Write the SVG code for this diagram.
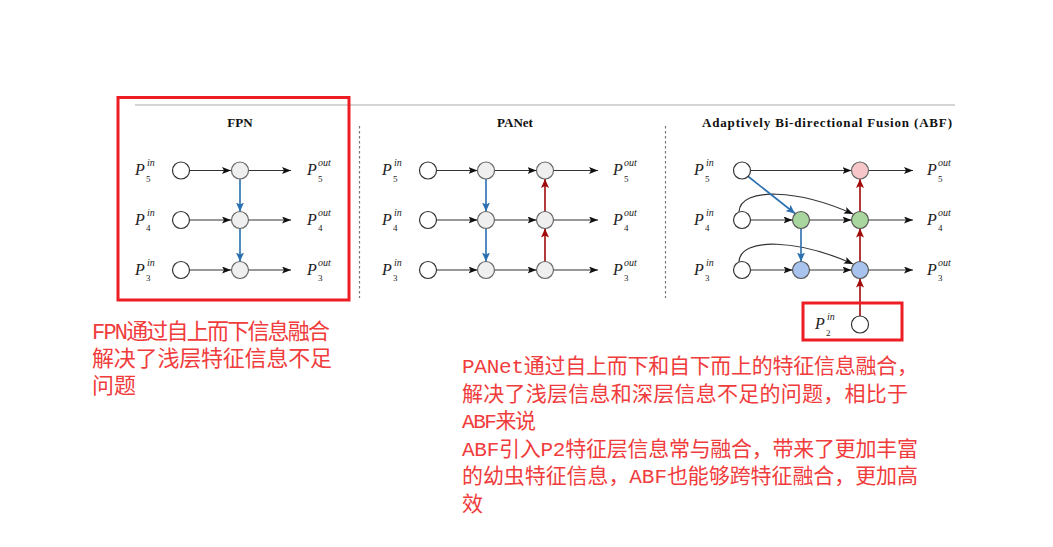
<svg xmlns="http://www.w3.org/2000/svg" width="1053" height="547" viewBox="0 0 1053 547">
<style>
.bg{fill:#fff}
.e{stroke:#333;stroke-width:1.2;fill:none}
.eb{stroke:#2a6fb0;stroke-width:1.6;fill:none}
.er{stroke:#a00a0a;stroke-width:1.6;fill:none}
.nin{fill:#fff;stroke:#333;stroke-width:1.2}
.ng{fill:#efefef;stroke:#666;stroke-width:1.2}
.npk{fill:#f6c6c8;stroke:#666;stroke-width:1.2}
.ngr{fill:#a9d59f;stroke:#555;stroke-width:1.2}
.nbl{fill:#a8c4ee;stroke:#555;stroke-width:1.2}
.P{font-family:"Liberation Serif",serif;font-style:italic;font-size:16px;fill:#222}
.sup{font-family:"Liberation Serif",serif;font-style:italic;font-size:10px;fill:#222}
.sub{font-family:"Liberation Serif",serif;font-size:9px;fill:#222}
.title{font-family:"Liberation Serif",serif;font-weight:bold;font-size:13px;fill:#111}
.note{font-family:"Liberation Mono","Noto Sans CJK SC",monospace;fill:#f03c3c}
.box{fill:none;stroke:#ee1c25;stroke-width:3}
.sep{stroke:#777;stroke-width:1.2;stroke-dasharray:2.5,2.5}
</style>
<defs>
<marker id="ak" markerUnits="userSpaceOnUse" markerWidth="9" markerHeight="7" refX="9" refY="3.5" orient="auto"><path d="M0,0 L9,3.5 L0,7 L2,3.5 z" fill="#111"/></marker>
<marker id="ab" markerUnits="userSpaceOnUse" markerWidth="9" markerHeight="8" refX="9" refY="4" orient="auto"><path d="M0,0 L9,4 L0,8 L2,4 z" fill="#2a6fb0"/></marker>
<marker id="ar" markerUnits="userSpaceOnUse" markerWidth="9" markerHeight="8" refX="9" refY="4" orient="auto"><path d="M0,0 L9,4 L0,8 L2,4 z" fill="#a00a0a"/></marker>
</defs>
<rect class="bg" x="0" y="0" width="1053" height="547"/>
<line x1="135" y1="105" x2="955" y2="105" stroke="#aaa" stroke-width="1"/>
<line class="sep" x1="359.5" y1="126" x2="359.5" y2="298"/>
<line class="sep" x1="665.5" y1="126" x2="665.5" y2="298"/>
<text class="title" x="240" y="127" text-anchor="middle">FPN</text>
<text class="title" x="515" y="127" text-anchor="middle">PANet</text>
<text class="title" x="702" y="127" textLength="250" lengthAdjust="spacing">Adaptively  Bi-directional  Fusion (ABF)</text>

<g id="connectors">
<!-- FPN -->
<line class="e" x1="189.5" y1="170.5" x2="231" y2="170.5" marker-end="url(#ak)"/>
<line class="e" x1="249" y1="170.5" x2="291" y2="170.5" marker-end="url(#ak)"/>
<line class="e" x1="189.5" y1="220" x2="231" y2="220" marker-end="url(#ak)"/>
<line class="e" x1="249" y1="220" x2="291" y2="220" marker-end="url(#ak)"/>
<line class="e" x1="189.5" y1="270" x2="231" y2="270" marker-end="url(#ak)"/>
<line class="e" x1="249" y1="270" x2="291" y2="270" marker-end="url(#ak)"/>
<line class="eb" x1="240" y1="179" x2="240" y2="211.5" marker-end="url(#ab)"/>
<line class="eb" x1="240" y1="228.5" x2="240" y2="261.5" marker-end="url(#ab)"/>
<!-- PANet -->
<line class="e" x1="436.5" y1="170.5" x2="477.5" y2="170.5" marker-end="url(#ak)"/>
<line class="e" x1="494.5" y1="170.5" x2="536.5" y2="170.5" marker-end="url(#ak)"/>
<line class="e" x1="553.5" y1="170.5" x2="598" y2="170.5" marker-end="url(#ak)"/>
<line class="e" x1="436.5" y1="220" x2="477.5" y2="220" marker-end="url(#ak)"/>
<line class="e" x1="494.5" y1="220" x2="536.5" y2="220" marker-end="url(#ak)"/>
<line class="e" x1="553.5" y1="220" x2="598" y2="220" marker-end="url(#ak)"/>
<line class="e" x1="436.5" y1="270" x2="477.5" y2="270" marker-end="url(#ak)"/>
<line class="e" x1="494.5" y1="270" x2="536.5" y2="270" marker-end="url(#ak)"/>
<line class="e" x1="553.5" y1="270" x2="598" y2="270" marker-end="url(#ak)"/>
<line class="eb" x1="486" y1="179" x2="486" y2="211.5" marker-end="url(#ab)"/>
<line class="eb" x1="486" y1="228.5" x2="486" y2="261.5" marker-end="url(#ab)"/>
<line class="er" x1="545" y1="261.5" x2="545" y2="228.5" marker-end="url(#ar)"/>
<line class="er" x1="545" y1="211.5" x2="545" y2="179" marker-end="url(#ar)"/>
<!-- ABF -->
<line class="e" x1="750.5" y1="170.5" x2="851.5" y2="170.5" marker-end="url(#ak)"/>
<line class="e" x1="868.5" y1="170.5" x2="913" y2="170.5" marker-end="url(#ak)"/>
<line class="e" x1="750.5" y1="220" x2="792.5" y2="220" marker-end="url(#ak)"/>
<line class="e" x1="809.5" y1="220" x2="851.5" y2="220" marker-end="url(#ak)"/>
<line class="e" x1="868.5" y1="220" x2="913" y2="220" marker-end="url(#ak)"/>
<line class="e" x1="750.5" y1="270" x2="792.5" y2="270" marker-end="url(#ak)"/>
<line class="e" x1="809.5" y1="270" x2="851.5" y2="270" marker-end="url(#ak)"/>
<line class="e" x1="868.5" y1="270" x2="913" y2="270" marker-end="url(#ak)"/>
<path class="e" d="M739,212 C740,186 800,190 853,214" marker-end="url(#ak)"/>
<path class="e" d="M739,262 C740,236 800,240 853,264" marker-end="url(#ak)"/>
<line class="eb" x1="747" y1="175.5" x2="795" y2="213.5" marker-end="url(#ab)"/>
<line class="eb" x1="801" y1="228.5" x2="801" y2="261.5" marker-end="url(#ab)"/>
<line class="er" x1="860" y1="261.5" x2="860" y2="228.5" marker-end="url(#ar)"/>
<line class="er" x1="860" y1="211.5" x2="860" y2="179" marker-end="url(#ar)"/>
<line class="er" x1="860" y1="316" x2="860" y2="278.5" marker-end="url(#ar)"/>
</g>

<g id="fpn-nodes">
<circle class="nin" cx="181" cy="170.5" r="8.5"/>
<circle class="nin" cx="181" cy="220" r="8.5"/>
<circle class="nin" cx="181" cy="270" r="8.5"/>
<circle class="ng" cx="240" cy="170.5" r="8.5"/>
<circle class="ng" cx="240" cy="220" r="8.5"/>
<circle class="ng" cx="240" cy="270" r="8.5"/>
</g>
<g id="panet-nodes">
<circle class="nin" cx="428" cy="170.5" r="8.5"/>
<circle class="nin" cx="428" cy="220" r="8.5"/>
<circle class="nin" cx="428" cy="270" r="8.5"/>
<circle class="ng" cx="486" cy="170.5" r="8.5"/>
<circle class="ng" cx="486" cy="220" r="8.5"/>
<circle class="ng" cx="486" cy="270" r="8.5"/>
<circle class="ng" cx="545" cy="170.5" r="8.5"/>
<circle class="ng" cx="545" cy="220" r="8.5"/>
<circle class="ng" cx="545" cy="270" r="8.5"/>
</g>
<g id="abf-nodes">
<circle class="nin" cx="742" cy="170.5" r="8.5"/>
<circle class="nin" cx="742" cy="220" r="8.5"/>
<circle class="nin" cx="742" cy="270" r="8.5"/>
<circle class="ngr" cx="801" cy="220" r="8.5"/>
<circle class="nbl" cx="801" cy="270" r="8.5"/>
<circle class="npk" cx="860" cy="170.5" r="8.5"/>
<circle class="ngr" cx="860" cy="220" r="8.5"/>
<circle class="nbl" cx="860" cy="270" r="8.5"/>
<circle class="nin" cx="860" cy="324.5" r="8.5"/>
</g>

<g id="labels">
<!-- FPN -->
<text class="P" x="135" y="175">P</text><text class="sup" x="147" y="166">in</text><text class="sub" x="146" y="181.5">5</text>
<text class="P" x="135" y="224.5">P</text><text class="sup" x="147" y="215.5">in</text><text class="sub" x="146" y="231">4</text>
<text class="P" x="135" y="274.5">P</text><text class="sup" x="147" y="265.5">in</text><text class="sub" x="146" y="281">3</text>
<text class="P" x="307" y="175">P</text><text class="sup" x="318" y="166">out</text><text class="sub" x="318" y="181.5">5</text>
<text class="P" x="307" y="224.5">P</text><text class="sup" x="318" y="215.5">out</text><text class="sub" x="318" y="231">4</text>
<text class="P" x="307" y="274.5">P</text><text class="sup" x="318" y="265.5">out</text><text class="sub" x="318" y="281">3</text>
<!-- PANet -->
<text class="P" x="382" y="175">P</text><text class="sup" x="394" y="166">in</text><text class="sub" x="393" y="181.5">5</text>
<text class="P" x="382" y="224.5">P</text><text class="sup" x="394" y="215.5">in</text><text class="sub" x="393" y="231">4</text>
<text class="P" x="382" y="274.5">P</text><text class="sup" x="394" y="265.5">in</text><text class="sub" x="393" y="281">3</text>
<text class="P" x="613" y="175">P</text><text class="sup" x="624" y="166">out</text><text class="sub" x="624" y="181.5">5</text>
<text class="P" x="613" y="224.5">P</text><text class="sup" x="624" y="215.5">out</text><text class="sub" x="624" y="231">4</text>
<text class="P" x="613" y="274.5">P</text><text class="sup" x="624" y="265.5">out</text><text class="sub" x="624" y="281">3</text>
<!-- ABF -->
<text class="P" x="694" y="175">P</text><text class="sup" x="706" y="166">in</text><text class="sub" x="705" y="181.5">5</text>
<text class="P" x="694" y="224.5">P</text><text class="sup" x="706" y="215.5">in</text><text class="sub" x="705" y="231">4</text>
<text class="P" x="694" y="274.5">P</text><text class="sup" x="706" y="265.5">in</text><text class="sub" x="705" y="281">3</text>
<text class="P" x="927" y="175">P</text><text class="sup" x="938" y="166">out</text><text class="sub" x="938" y="181.5">5</text>
<text class="P" x="927" y="224.5">P</text><text class="sup" x="938" y="215.5">out</text><text class="sub" x="938" y="231">4</text>
<text class="P" x="927" y="274.5">P</text><text class="sup" x="938" y="265.5">out</text><text class="sub" x="938" y="281">3</text>
<text class="P" x="815" y="329">P</text><text class="sup" x="827" y="320">in</text><text class="sub" x="826" y="335.5">2</text>
</g>

<g id="highlights">
<rect class="box" x="118" y="97.5" width="231" height="202.5"/>
<rect class="box" x="803" y="303" width="99" height="37"/>
</g>

<g id="notes">
<text class="note" font-size="22" x="92" y="339" textLength="238" lengthAdjust="spacing">FPN通过自上而下信息融合</text>
<text class="note" font-size="22" x="92" y="366" textLength="240" lengthAdjust="spacing">解决了浅层特征信息不足</text>
<text class="note" font-size="22" x="92" y="393" textLength="44" lengthAdjust="spacing">问题</text>
<text class="note" font-size="21" x="462" y="373" textLength="456" lengthAdjust="spacing">PANet通过自上而下和自下而上的特征信息融合，</text>
<text class="note" font-size="21" x="462" y="400.5" textLength="446" lengthAdjust="spacing">解决了浅层信息和深层信息不足的问题，相比于</text>
<text class="note" font-size="21" x="462" y="428" textLength="74" lengthAdjust="spacing">ABF来说</text>
<text class="note" font-size="21" x="462" y="455.5" textLength="456" lengthAdjust="spacing">ABF引入P2特征层信息常与融合，带来了更加丰富</text>
<text class="note" font-size="21" x="462" y="483" textLength="456" lengthAdjust="spacing">的幼虫特征信息，ABF也能够跨特征融合，更加高</text>
<text class="note" font-size="21" x="462" y="510.5" textLength="21" lengthAdjust="spacing">效</text>
</g>
</svg>
